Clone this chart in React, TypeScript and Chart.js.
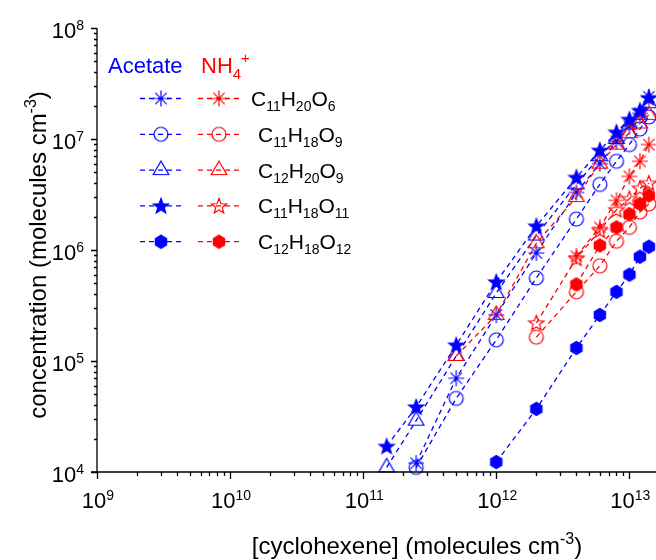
import React, { useEffect, useRef } from 'react';
import { Chart, registerables } from 'chart.js';

Chart.register(...registerables);

const BLUE = '#0000ff';
const RED = '#ff0000';
const FONT = "'Liberation Sans', Arial, Helvetica, sans-serif";

// [cyclohexene] (molecules cm^-3)
const cyclohexene = [1.5e11, 2.5e11, 5e11, 1e12, 2e12, 4e12, 6e12, 8e12, 1e13, 1.2e13, 1.4e13];

// Acetate (blue)
const acetate_C11H20O6 = [null, 1.2e4, 7.0e4, 2.6e5, 9.4e5, 3.3e6, 6.0e6, 9.5e6, 1.3e7, 1.7e7, 2.4e7];
const acetate_C11H18O9 = [null, 1.1e4, 4.6e4, 1.55e5, 5.6e5, 1.9e6, 3.9e6, 6.3e6, 8.9e6, 1.23e7, 1.58e7];
const acetate_C12H20O9 = [1.1e4, 2.9e4, 1.11e5, 4.1e5, 1.35e6, 3.9e6, 7.0e6, 1.0e7, 1.35e7, 1.65e7, 2.1e7];
const acetate_C11H18O11 = [1.7e4, 3.85e4, 1.39e5, 5.15e5, 1.64e6, 4.5e6, 7.9e6, 1.15e7, 1.5e7, 1.8e7, 2.35e7];
const acetate_C12H18O12 = [null, null, null, 1.23e4, 3.7e4, 1.31e5, 2.6e5, 4.2e5, 6.0e5, 8.7e5, 1.07e6];

// NH4+ (red)
const ammonium_C11H20O6 = [null, null, null, null, null, 8.8e5, 1.6e6, 2.8e6, 4.6e6, 6.3e6, 8.9e6];
const ammonium_C11H18O9 = [null, null, null, null, 1.64e5, 4.2e5, 7.2e5, 1.2e6, 1.6e6, 2.2e6, 2.6e6];
const ammonium_C12H20O9 = [null, null, 1.11e5, 2.6e5, 1.15e6, 3.0e6, 6.0e6, 8.9e6, 1.13e7, 1.38e7, 1.65e7];
const ammonium_C11H18O11 = [null, null, null, null, 2.2e5, 8.4e5, 1.5e6, 2.3e6, 2.9e6, 3.6e6, 4.0e6];
const ammonium_C12H18O12 = [null, null, null, null, null, 4.9e5, 1.1e6, 1.6e6, 2.1e6, 2.6e6, 3.1e6];

const formulas = ['C11H20O6', 'C11H18O9', 'C12H20O9', 'C11H18O11', 'C12H18O12'];
const blueMarkers = ['asterisk', 'circle', 'triangle', 'starFilled', 'hexagon'];
const redMarkers = ['asterisk', 'circle', 'triangle', 'starOpen', 'hexagon'];

const xTickExponents = [9, 10, 11, 12, 13];
const yTickExponents = [4, 5, 6, 7, 8];
const X_MIN = 1e9;
const X_MAX = Math.pow(10, 13.2);
const Y_MIN = 1e4;
const Y_MAX = 1e8;

type Run = { t: string; size: number; dy: number };

function runsWidth(ctx: CanvasRenderingContext2D, runs: Run[]) {
  let w = 0;
  for (const r of runs) {
    ctx.font = `${r.size}px ${FONT}`;
    w += ctx.measureText(r.t).width;
  }
  return w;
}

function drawRuns(ctx: CanvasRenderingContext2D, runs: Run[], x: number, y: number, align: string, color: string) {
  const w = runsWidth(ctx, runs);
  let sx = align === 'left' ? x : align === 'center' ? x - w / 2 : x - w;
  ctx.textAlign = 'left';
  ctx.textBaseline = 'alphabetic';
  ctx.fillStyle = color;
  for (const r of runs) {
    ctx.font = `${r.size}px ${FONT}`;
    ctx.fillText(r.t, sx, y + r.dy);
    sx += ctx.measureText(r.t).width;
  }
}

function formulaRuns(f: string): Run[] {
  const parts = f.match(/[A-Z][a-z]?|\d+/g) || [];
  return parts.map((p) => (/\d/.test(p) ? { t: p, size: 14, dy: 5 } : { t: p, size: 21, dy: 0 }));
}

function makeMarker(kind: string, color: string): HTMLCanvasElement {
  const S = 24;
  const c = document.createElement('canvas');
  c.width = S;
  c.height = S;
  const g = c.getContext('2d')!;
  const cx = S / 2;
  const cy = S / 2;
  g.strokeStyle = color;
  g.fillStyle = color;
  g.lineWidth = 1.2;
  g.beginPath();
  if (kind === 'asterisk') {
    const r = 8;
    for (let i = 0; i < 4; i++) {
      const a = (i * Math.PI) / 4;
      g.moveTo(cx + r * Math.cos(a), cy + r * Math.sin(a));
      g.lineTo(cx - r * Math.cos(a), cy - r * Math.sin(a));
    }
    g.stroke();
  } else if (kind === 'circle') {
    g.arc(cx, cy, 7, 0, Math.PI * 2);
    g.stroke();
  } else if (kind === 'triangle') {
    const r = 9;
    g.moveTo(cx, cy - r);
    g.lineTo(cx + r * 0.866, cy + r / 2);
    g.lineTo(cx - r * 0.866, cy + r / 2);
    g.closePath();
    g.stroke();
  } else if (kind === 'starFilled' || kind === 'starOpen') {
    const R = 8;
    const r = 3.4;
    for (let i = 0; i < 10; i++) {
      const a = -Math.PI / 2 + (i * Math.PI) / 5;
      const rr = i % 2 ? r : R;
      const x = cx + rr * Math.cos(a);
      const y = cy + 0.5 + rr * Math.sin(a);
      if (i === 0) g.moveTo(x, y);
      else g.lineTo(x, y);
    }
    g.closePath();
    if (kind === 'starFilled') g.fill();
    g.stroke();
  } else if (kind === 'hexagon') {
    const r = 6.5;
    for (let i = 0; i < 6; i++) {
      const a = Math.PI / 6 + (i * Math.PI) / 3;
      const x = cx + r * Math.cos(a);
      const y = cy + r * Math.sin(a);
      if (i === 0) g.moveTo(x, y);
      else g.lineTo(x, y);
    }
    g.closePath();
    g.fill();
    g.stroke();
  }
  return c;
}

function toPoints(values: (number | null)[]) {
  const pts: { x: number; y: number }[] = [];
  values.forEach((v, i) => {
    if (v !== null) pts.push({ x: cyclohexene[i], y: v });
  });
  return pts;
}

export default function App() {
  const ref = useRef<HTMLCanvasElement>(null);

  useEffect(() => {
    if (!ref.current) return;
    const markers: Record<string, HTMLCanvasElement> = {};
    for (const k of ['asterisk', 'circle', 'triangle', 'starFilled', 'starOpen', 'hexagon']) {
      markers['b_' + k] = makeMarker(k, BLUE);
      markers['r_' + k] = makeMarker(k, RED);
    }

    // first dataset is drawn on top
    const defs = [
      { label: 'Acetate C11H18O11', values: acetate_C11H18O11, color: BLUE, m: 'b_starFilled' },
      { label: 'NH4+ C12H20O9', values: ammonium_C12H20O9, color: RED, m: 'r_triangle' },
      { label: 'Acetate C12H20O9', values: acetate_C12H20O9, color: BLUE, m: 'b_triangle' },
      { label: 'Acetate C11H20O6', values: acetate_C11H20O6, color: BLUE, m: 'b_asterisk' },
      { label: 'Acetate C11H18O9', values: acetate_C11H18O9, color: BLUE, m: 'b_circle' },
      { label: 'NH4+ C11H20O6', values: ammonium_C11H20O6, color: RED, m: 'r_asterisk' },
      { label: 'NH4+ C11H18O11', values: ammonium_C11H18O11, color: RED, m: 'r_starOpen' },
      { label: 'NH4+ C12H18O12', values: ammonium_C12H18O12, color: RED, m: 'r_hexagon' },
      { label: 'NH4+ C11H18O9', values: ammonium_C11H18O9, color: RED, m: 'r_circle' },
      { label: 'Acetate C12H18O12', values: acetate_C12H18O12, color: BLUE, m: 'b_hexagon' },
    ];

    const datasets = defs.map((d) => ({
      label: d.label,
      data: toPoints(d.values),
      showLine: true,
      borderColor: d.color,
      backgroundColor: d.color,
      borderWidth: 1.3,
      borderDash: [5, 4],
      pointStyle: markers[d.m],
      pointRadius: 7,
      pointHoverRadius: 7,
      clip: 14,
    }));

    const customPlugin = {
      id: 'customDecor',
      afterDraw(chart: any) {
        const ctx: CanvasRenderingContext2D = chart.ctx;
        const { left, right, top, bottom } = chart.chartArea;
        const xs = chart.scales.x;
        const ys = chart.scales.y;
        ctx.save();
        ctx.strokeStyle = '#000';
        ctx.lineWidth = 1.3;
        ctx.setLineDash([]);
        // axis lines
        ctx.beginPath();
        ctx.moveTo(left, top);
        ctx.lineTo(left, bottom);
        ctx.moveTo(left - 6, bottom);
        ctx.lineTo(right, bottom);
        ctx.stroke();
        // x ticks
        ctx.beginPath();
        for (const e of xTickExponents) {
          for (let m = 1; m <= 9; m++) {
            const v = m * Math.pow(10, e);
            if (v > X_MAX * 1.0001) continue;
            const px = Math.round(xs.getPixelForValue(v)) + 0.5;
            ctx.moveTo(px, bottom);
            ctx.lineTo(px, bottom + (m === 1 ? 7 : 4));
          }
        }
        // y ticks
        for (const e of yTickExponents) {
          for (let m = 1; m <= 9; m++) {
            const v = m * Math.pow(10, e);
            if (v > Y_MAX * 1.0001) continue;
            const py = Math.round(ys.getPixelForValue(v)) + 0.5;
            ctx.moveTo(left, py);
            ctx.lineTo(left - (m === 1 ? 6 : 3), py);
          }
        }
        ctx.stroke();

        // tick labels
        for (const e of xTickExponents) {
          const px = xs.getPixelForValue(Math.pow(10, e));
          drawRuns(ctx, [{ t: '10', size: 22, dy: 0 }, { t: String(e), size: 14, dy: -8 }], px + 1, bottom + 36, 'center', '#000');
        }
        for (const e of yTickExponents) {
          const py = ys.getPixelForValue(Math.pow(10, e));
          drawRuns(ctx, [{ t: '10', size: 22, dy: 0 }, { t: String(e), size: 14, dy: -8 }], left - 13, py + 10, 'right', '#000');
        }

        // axis titles
        drawRuns(
          ctx,
          [
            { t: '[cyclohexene] (molecules cm', size: 24, dy: 0 },
            { t: '-3', size: 16, dy: -10 },
            { t: ')', size: 24, dy: 0 },
          ],
          417,
          554,
          'center',
          '#000'
        );
        ctx.save();
        ctx.translate(46, 255);
        ctx.rotate(-Math.PI / 2);
        drawRuns(
          ctx,
          [
            { t: 'concentration (molecules cm', size: 24, dy: 0 },
            { t: '-3', size: 16, dy: -10 },
            { t: ')', size: 24, dy: 0 },
          ],
          0,
          0,
          'center',
          '#000'
        );
        ctx.restore();

        // legend
        drawRuns(ctx, [{ t: 'Acetate', size: 22, dy: 0 }], 108, 73, 'left', BLUE);
        drawRuns(
          ctx,
          [
            { t: 'NH', size: 22, dy: 0 },
            { t: '4', size: 15, dy: 6 },
            { t: '+', size: 15, dy: -10 },
          ],
          201,
          73,
          'left',
          RED
        );
        formulas.forEach((f, i) => {
          const y = 98.5 + i * 35.8;
          ctx.lineWidth = 1.3;
          ctx.setLineDash([5, 4]);
          ctx.strokeStyle = BLUE;
          ctx.beginPath();
          ctx.moveTo(140, y);
          ctx.lineTo(183, y);
          ctx.stroke();
          ctx.strokeStyle = RED;
          ctx.beginPath();
          ctx.moveTo(198, y);
          ctx.lineTo(241, y);
          ctx.stroke();
          ctx.setLineDash([]);
          const bm = markers['b_' + blueMarkers[i]];
          const rm = markers['r_' + redMarkers[i]];
          ctx.drawImage(bm, 161 - bm.width / 2, y - bm.height / 2);
          ctx.drawImage(rm, 219 - rm.width / 2, y - rm.height / 2);
          drawRuns(ctx, formulaRuns(f), i === 0 ? 251 : 258, y + 7.5, 'left', '#000');
        });
        ctx.restore();
      },
    };

    const chart = new Chart(ref.current, {
      type: 'scatter',
      data: { datasets: datasets as any },
      options: {
        animation: false,
        responsive: false,
        maintainAspectRatio: false,
        devicePixelRatio: 1,
        layout: { autoPadding: false, padding: { left: 97, right: 0, top: 28, bottom: 88 } },
        scales: {
          x: { type: 'logarithmic', min: X_MIN, max: X_MAX, display: false },
          y: { type: 'logarithmic', min: Y_MIN, max: Y_MAX, display: false },
        },
        plugins: {
          legend: { display: false },
          tooltip: { enabled: false },
        },
        events: [],
      } as any,
      plugins: [customPlugin],
    });
    return () => chart.destroy();
  }, []);

  return (
    <div style={{ position: 'absolute', left: 0, top: 0, width: 656, height: 560, background: '#fff' }}>
      <canvas ref={ref} width={656} height={560} style={{ display: 'block', width: 656, height: 560 }} />
    </div>
  );
}
